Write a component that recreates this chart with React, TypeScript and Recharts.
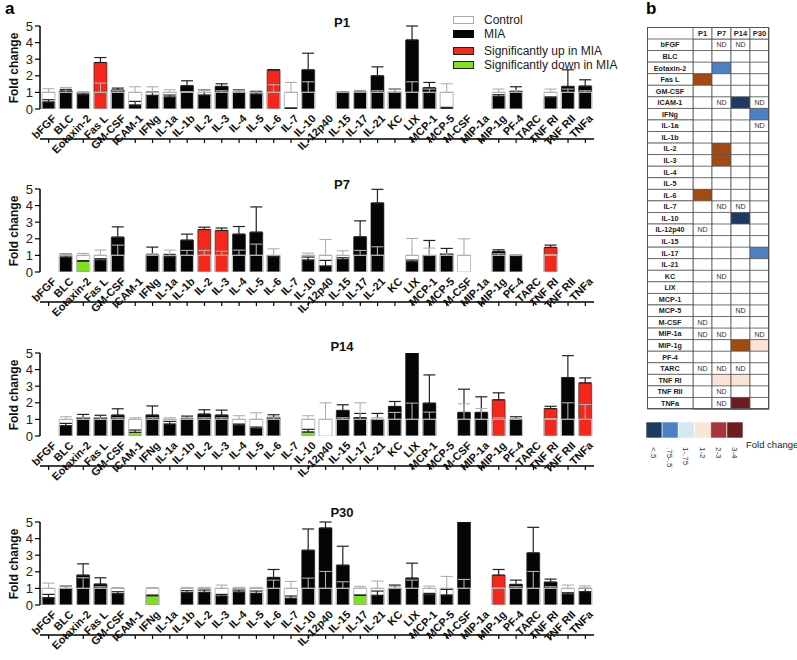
import React from 'react'
import { BarChart, Bar, XAxis, YAxis, Cell, ErrorBar, LabelList } from 'recharts'

const cytokines = [
  'bFGF', 'BLC', 'Eotaxin-2', 'Fas L', 'GM-CSF', 'ICAM-1', 'IFNg', 'IL-1a', 'IL-1b', 'IL-2', 'IL-3',
  'IL-4', 'IL-5', 'IL-6', 'IL-7', 'IL-10', 'IL-12p40', 'IL-15', 'IL-17', 'IL-21', 'KC', 'LIX',
  'MCP-1', 'MCP-5', 'M-CSF', 'MIP-1a', 'MIP-1g', 'PF-4', 'TARC', 'TNF RI', 'TNF RII', 'TNFa'
]

// fold change of MIA vs control (control = 1), upper SEM only
const p1Mia = [0.42, 1.08, 0.86, 2.8, 1.14, 0.24, 0.82, 0.72, 1.4, 0.84, 1.36, 1.0, 0.9, 2.36, 0.05, 2.36, null, 1.0, 1.0, 2.0, 1.0, 4.16, 1.28, 0.05, null, null, 0.76, 1.06, null, 0.68, 1.36, 1.38]
const p1MiaErr = [0.14, 0.1, 0.1, 0.3, 0.12, 0.22, 0.2, 0.12, 0.3, 0.3, 0.16, 0.15, 0.15, 0, 0, 1.0, null, 0.02, 0.1, 0.54, 0.2, 0.84, 0.32, 0.05, null, null, 0.1, 0.28, null, 0.05, 1.0, 0.38]
const p1CtrlErr = [0.22, 0.3, 0.05, 0.56, 0.1, 0.34, 0.34, 0.16, 0.05, 0.12, 0.1, 0.1, 0.1, 0.46, 0.6, 0.64, null, 0.02, 0.12, 0.1, 0.2, 0.64, 0.2, 0.52, null, null, 0.2, 0.1, null, 0.2, 0.2, 0.1]
const p1Up = ['Fas L', 'IL-6']
const p1Down: string[] = []

const p7Mia = [null, 0.9, 0.66, 0.72, 2.1, null, 1.02, 0.92, 1.92, 2.56, 2.5, 2.28, 2.4, 0.92, null, 0.72, 0.36, 0.76, 2.12, 4.16, null, 0.62, 0.98, 1.1, null, null, 1.24, 0.98, null, 1.48, null, null]
const p7MiaErr = [null, 0.2, 0.02, 0.08, 0.62, null, 0.48, 0.14, 0.36, 0.14, 0.15, 0.46, 1.52, 0.05, null, 0.18, 0.34, 0.1, 0.96, 0.82, null, 0.1, 0.92, 0.32, null, null, 0.1, 0.03, null, 0.14, null, null]
const p7CtrlErr = [null, 0.1, 0.12, 0.32, 0.62, null, 0.1, 0.32, 0.3, 0.3, 0.25, 0.32, 0.68, 0.4, null, 0.14, 0.96, 0.28, 0.3, 0.52, null, 1.02, 0.44, 0.1, 1.0, null, 0.1, 0.02, null, 0.05, null, null]
const p7Up = ['IL-2', 'IL-3', 'TNF RI']
const p7Down = ['Eotaxin-2']

const p14Mia = [null, 0.62, 1.1, 1.1, 1.26, 0.22, 1.26, 0.72, 1.02, 1.32, 1.26, 0.66, 0.46, 1.12, null, 0.24, null, 1.54, 1.1, 0.98, 1.78, 5.0, 1.98, null, 1.42, 1.42, 2.18, 1.0, null, 1.65, 3.52, 3.2]
const p14MiaErr = [null, 0.14, 0.2, 0.15, 0.38, 0.14, 0.55, 0.16, 0.18, 0.26, 0.3, 0.06, 0.08, 0.16, null, 0.16, null, 0.34, 0.26, 0.38, 0.3, null, 1.7, null, 1.4, 0.94, 0.42, 0.16, null, 0.14, 1.32, 0.3]
const p14CtrlErr = [null, 0.16, 0.1, 0.1, 0.1, 0.1, 0.1, 0.1, 0.1, 0.1, 0.1, 0.22, 0.4, 0.1, null, 0.22, 1.0, 0.1, 1.0, 0.1, 0.42, 0.98, 0.44, null, 0.94, 0.66, 0.1, 0.05, null, 0.05, 1.0, 0.9]
const p14Up = ['MIP-1g', 'TNF RI', 'TNFa']
const p14Down = ['ICAM-1', 'IL-10']

const p30Mia = [0.44, 0.98, 1.8, 1.26, 0.68, null, 0.56, null, 0.74, 0.76, 0.54, 0.78, 0.7, 1.66, 0.4, 3.3, 4.64, 2.4, 0.58, 0.58, 0.98, 1.62, 0.62, 0.6, 5.0, null, 1.8, 1.24, 3.14, 1.38, 0.66, 0.8]
const p30MiaErr = [0.2, 0.16, 0.68, 0.38, 0.12, null, 0.04, null, 0.12, 0.14, 0.1, 0.12, 0.14, 0.48, 0.14, 1.28, 0.36, 1.14, 0.02, 0.26, 0.22, 0.9, 0.08, 0.34, null, null, 0.34, 0.26, 1.54, 0.18, 0.08, 0.2]
const p30CtrlErr = [0.32, 0.14, 0.64, 0.1, 0.05, null, 0.05, null, 0.06, 0.06, 0.2, 0.06, 0.06, 0.5, 0.42, 0.62, 1.02, 0.4, 0.12, 0.44, 0.1, 0.5, 0.14, 0.72, 0.54, null, 0.02, 0.1, 1.02, 0.1, 0.2, 0.15]
const p30Up = ['MIP-1g']
const p30Down = ['IFNg', 'IL-17']

// heat map (panel b)
const hmPeriods = ['P1', 'P7', 'P14', 'P30']
const hmP1 = ['', '', '', '2-3', '', '', '', '', '', '', '', '', '', '2-3', '', '', 'ND', '', '', '', '', '', '', '', 'ND', 'ND', '', '', 'ND', '', '', '']
const hmP7 = ['ND', '', '.75-.5', '', '', 'ND', '', '', '', '2-3', '2-3', '', '', '', 'ND', '', '', '', '', '', 'ND', '', '', '', '', 'ND', '', '', 'ND', '1-2', 'ND', 'ND']
const hmP14 = ['ND', '', '', '', '', '<.5', '', '', '', '', '', '', '', '', 'ND', '<.5', '', '', '', '', '', '', '', 'ND', '', '', '2-3', '', 'ND', '1-2', '', '3-4']
const hmP30 = ['', '', '', '', '', 'ND', '.75-.5', 'ND', '', '', '', '', '', '', '', '', '', '', '.75-.5', '', '', '', '', '', '', 'ND', '1-2', '', '', '', '', '']
const scaleLabels = ['<.5', '.75-.5', '1-.75', '1-2', '2-3', '3-4']
const scaleColors = ['#1f3b63', '#4b80c3', '#d6e9f3', '#fce4d4', '#a5373a', '#6b1d1f']
const cellColors: Record<string, string> = {
  '<.5': '#1e3a62', '.75-.5': '#4a80c4', '1-.75': '#d6e9f3', '1-2': '#fce4d4', '2-3': '#a34a12', '3-4': '#6e1c1c'
}

const FONT = '"Liberation Sans", Arial, sans-serif'
const PLOT_TOP = 10
const PLOT_H = 83

function CatTick(props: any) {
  const { x, payload } = props
  const y = PLOT_TOP + PLOT_H + 6
  return (
    <text
      x={x + 4}
      y={y + 6}
      transform={`rotate(-45, ${x + 4}, ${y})`}
      textAnchor="end"
      fontSize={11}
      fontWeight="bold"
      fill="#111"
      fontFamily={FONT}
    >
      {payload.value}
    </text>
  )
}

function Panel({ title, top, titleY, mia, miaErr, ctrlErr, up, down }: any) {
  const data = cytokines.map((name, i) => ({
    name,
    mia: mia[i],
    miaErr: miaErr[i] == null ? null : [0, miaErr[i]],
    ctrl: ctrlErr[i] == null ? null : 1,
    ctrlErr: ctrlErr[i] == null ? null : [0, ctrlErr[i]]
  }))
  const colorOf = (name: string) => (up.includes(name) ? '#f5261a' : down.includes(name) ? '#7fe01e' : '#050505')
  return (
    <div style={{ position: 'absolute', left: 0, top: top - PLOT_TOP }}>
      <BarChart width={604} height={PLOT_TOP + PLOT_H + 70} data={data} margin={{ top: PLOT_TOP, right: 10, left: 10, bottom: 0 }}>
        <XAxis
          xAxisId="main"
          dataKey="name"
          interval={0}
          height={70}
          tick={<CatTick />}
          tickSize={4}
          axisLine={{ stroke: '#000', strokeWidth: 1.5 }}
          tickLine={{ stroke: '#000', strokeWidth: 1.2 }}
        />
        <XAxis xAxisId="ctrl" dataKey="name" hide />
        <YAxis
          domain={[0, 5]}
          ticks={[0, 1, 2, 3, 4, 5]}
          interval={0}
          allowDataOverflow
          width={30}
          tickSize={5}
          tickMargin={2}
          axisLine={{ stroke: '#000', strokeWidth: 1.5 }}
          tickLine={{ stroke: '#000', strokeWidth: 1.2 }}
          tick={{ fontSize: 13, fill: '#222', fontFamily: FONT }}
        />
        <Bar xAxisId="main" dataKey="mia" barSize={13} stroke="#222" strokeWidth={0.6} isAnimationActive={false}>
          {data.map((d) => (
            <Cell key={d.name} fill={colorOf(d.name)} />
          ))}
          <ErrorBar dataKey="miaErr" width={6} stroke="#222" strokeWidth={1.2} direction="y" />
        </Bar>
        <Bar xAxisId="ctrl" dataKey="ctrl" barSize={13} fill="none" stroke="#c4c4c4" strokeWidth={1.2} isAnimationActive={false}>
          <ErrorBar dataKey="ctrlErr" width={6} stroke="#b0b0b0" strokeWidth={1.1} direction="y" />
        </Bar>
      </BarChart>
      <div style={{ position: 'absolute', left: 0, top: PLOT_TOP, width: 28, height: PLOT_H, display: 'flex', alignItems: 'center', justifyContent: 'center' }}>
        <div style={{ transform: 'rotate(-90deg)', whiteSpace: 'nowrap', fontSize: 12, fontWeight: 'bold', color: '#111' }}>Fold change</div>
      </div>
      <div style={{ position: 'absolute', left: 322, top: titleY - (top - PLOT_TOP) - 8, width: 40, lineHeight: '16px', textAlign: 'center', fontSize: 13, fontWeight: 'bold', color: '#111' }}>{title}</div>
    </div>
  )
}

const COL_W = 19
const ROW_LABEL_W = 46
const HEAD_H = 12

function HeaderTick(props: any) {
  const { x, payload } = props
  const label = hmPeriods[Math.floor(payload.value)]
  return (
    <g>
      <rect x={x - COL_W / 2} y={0} width={COL_W} height={HEAD_H} fill="#fff" stroke="#555" strokeWidth={0.8} />
      <text x={x} y={HEAD_H / 2 + 3} textAnchor="middle" fontSize={7.5} fontWeight="bold" fill="#222" fontFamily={FONT}>{label}</text>
    </g>
  )
}

function RowTick(props: any) {
  const { y, payload } = props
  const h = 370 / cytokines.length
  return (
    <g>
      <rect x={0} y={y - h / 2} width={ROW_LABEL_W} height={h} fill="#fff" stroke="#555" strokeWidth={0.8} />
      <text x={ROW_LABEL_W / 2} y={y + 2.6} textAnchor="middle" fontSize={7.2} fontWeight="bold" fill="#222" fontFamily={FONT}>{payload.value}</text>
    </g>
  )
}

function HeatMap() {
  const codes = [hmP1, hmP7, hmP14, hmP30]
  const data = cytokines.map((name, i) => {
    const row: any = { name }
    hmPeriods.forEach((p, j) => {
      row[p] = 1
      row[p + 'nd'] = codes[j][i] === 'ND' ? 'ND' : ''
    })
    return row
  })
  return (
    <div style={{ position: 'absolute', left: 647, top: 27 }}>
      <BarChart layout="vertical" width={123} height={383} data={data} margin={{ top: 0, right: 1, left: 0, bottom: 1 }} barCategoryGap={0} barGap={0}>
        <XAxis type="number" orientation="top" domain={[0, 4]} ticks={[0.5, 1.5, 2.5, 3.5]} interval={0} height={HEAD_H} tick={<HeaderTick />} axisLine={false} tickLine={false} />
        <YAxis type="category" dataKey="name" width={ROW_LABEL_W} interval={0} tick={<RowTick />} axisLine={false} tickLine={false} />
        {hmPeriods.map((p, j) => (
          <Bar key={p} dataKey={p} stackId="hm" stroke="#555" strokeWidth={0.8} isAnimationActive={false}>
            {data.map((d, i) => (
              <Cell key={d.name} fill={cellColors[codes[j][i]] || '#fff'} />
            ))}
            <LabelList dataKey={p + 'nd'} position="center" fontSize={7} fill="#333" fontFamily={FONT} />
          </Bar>
        ))}
      </BarChart>
      <div style={{ position: 'absolute', left: 0, top: 0, width: 122, height: 382, border: '1px solid #555', boxSizing: 'border-box', pointerEvents: 'none' }} />
    </div>
  )
}

function ScaleTick(props: any) {
  const { x, y, payload } = props
  return (
    <text x={x - 3} y={y} transform={`rotate(90, ${x - 3}, ${y})`} textAnchor="start" fontSize={8} fill="#333" fontFamily={FONT}>
      {scaleLabels[Math.floor(payload.value)]}
    </text>
  )
}

function ColorScale() {
  const row: any = { name: 'fold' }
  scaleLabels.forEach((l, i) => { row['c' + i] = 1 })
  return (
    <div style={{ position: 'absolute', left: 646, top: 422 }}>
      <BarChart layout="vertical" width={97} height={46} data={[row]} margin={{ top: 0, right: 0, left: 0, bottom: 0 }} barCategoryGap={0}>
        <XAxis type="number" domain={[0, 6]} ticks={[0.5, 1.5, 2.5, 3.5, 4.5, 5.5]} interval={0} height={30} tick={<ScaleTick />} axisLine={false} tickLine={false} tickMargin={3} />
        <YAxis type="category" dataKey="name" hide />
        {scaleLabels.map((l, i) => (
          <Bar key={l} dataKey={'c' + i} stackId="s" fill={scaleColors[i]} stroke="#fff" strokeWidth={0.6} isAnimationActive={false} />
        ))}
      </BarChart>
      <div style={{ position: 'absolute', left: 100, top: 17, fontSize: 9.5, color: '#222', whiteSpace: 'nowrap' }}>Fold change</div>
    </div>
  )
}

const legendItems = [
  { label: 'Control', fill: '#fff', stroke: '#aaa', y: 15 },
  { label: 'MIA', fill: '#050505', stroke: '#050505', y: 29 },
  { label: 'Significantly up in MIA', fill: '#f5261a', stroke: '#222', y: 46 },
  { label: 'Significantly down in MIA', fill: '#7fe01e', stroke: '#222', y: 60 }
]

export default function App() {
  return (
    <div style={{ position: 'absolute', left: 0, top: 0, width: 797, height: 660, background: '#fff', fontFamily: FONT, overflow: 'hidden' }}>
      <div style={{ position: 'absolute', left: 5, top: 0, fontSize: 17, lineHeight: '17px', fontWeight: 'bold' }}>a</div>
      <div style={{ position: 'absolute', left: 646, top: 0, fontSize: 17, lineHeight: '17px', fontWeight: 'bold' }}>b</div>
      <Panel title="P1" top={26} titleY={23} mia={p1Mia} miaErr={p1MiaErr} ctrlErr={p1CtrlErr} up={p1Up} down={p1Down} />
      <Panel title="P7" top={189} titleY={185} mia={p7Mia} miaErr={p7MiaErr} ctrlErr={p7CtrlErr} up={p7Up} down={p7Down} />
      <Panel title="P14" top={353} titleY={347} mia={p14Mia} miaErr={p14MiaErr} ctrlErr={p14CtrlErr} up={p14Up} down={p14Down} />
      <Panel title="P30" top={522} titleY={513} mia={p30Mia} miaErr={p30MiaErr} ctrlErr={p30CtrlErr} up={p30Up} down={p30Down} />
      {legendItems.map((it) => (
        <div key={it.label} style={{ position: 'absolute', left: 453, top: it.y, height: 10, display: 'flex', alignItems: 'center' }}>
          <div style={{ width: 21, height: 8, background: it.fill, border: `1px solid ${it.stroke}`, boxSizing: 'border-box' }} />
          <div style={{ marginLeft: 10, fontSize: 12, color: '#222', whiteSpace: 'nowrap' }}>{it.label}</div>
        </div>
      ))}
      <HeatMap />
      <ColorScale />
    </div>
  )
}
